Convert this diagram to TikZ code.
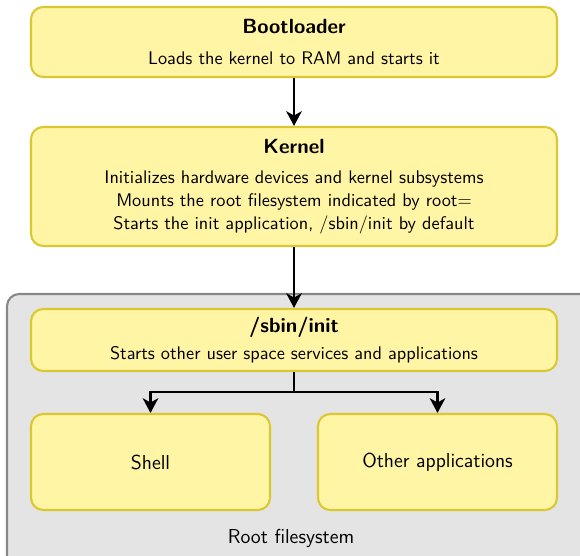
\documentclass[tikz,border=0pt]{standalone}
\usetikzlibrary{arrows.meta}
\definecolor{boxfill}{RGB}{255,245,165}
\definecolor{boxline}{RGB}{218,200,50}
\definecolor{fsfill}{RGB}{228,228,228}
\definecolor{fsline}{RGB}{135,135,135}
\newcommand{\pxsz}{0.575pt}
\newcommand{\stagetitle}[1]{{\fontsize{11.8}{14}\selectfont\bfseries #1}}
\tikzset{
  stage/.style={draw=boxline, fill=boxfill, line width=1.2pt, rounded corners=7pt,
    align=center, font=\sffamily\fontsize{10.5}{13}\selectfont, inner sep=0pt},
  bigtext/.style={font=\sffamily\fontsize{11.6}{14}\selectfont},
  flow/.style={line width=1.2pt, -{Stealth[length=8.5pt,width=9pt,inset=2.5pt]}}
}
\begin{document}
\begin{tikzpicture}[x=\pxsz, y=-\pxsz]
  \useasboundingbox (0,0) rectangle (580,556);
  % root filesystem
  \draw[fsline, fill=fsfill, line width=1.2pt, rounded corners=7pt] (7,294) rectangle (600,576);
  \node[bigtext] (rootfs) at (291,538) {Root filesystem};
  \node[stage, minimum width=526*\pxsz, minimum height=70*\pxsz] (boot) at (294,42)
    {\stagetitle{Bootloader}\\[4.5pt] Loads the kernel to RAM and starts it};
  \node[stage, minimum width=526*\pxsz, minimum height=119*\pxsz] (kernel) at (294,186.5)
    {\stagetitle{Kernel}\\[4.5pt] Initializes hardware devices and kernel subsystems\\
     Mounts the root filesystem indicated by root=\\
     Starts the init application, /sbin/init by default};
  \node[stage, minimum width=526*\pxsz, minimum height=62*\pxsz] (init) at (294,340)
    {\stagetitle{/sbin/init}\\[3pt] Starts other user space services and applications};
  \node[stage, bigtext, minimum width=239*\pxsz, minimum height=96*\pxsz] (shell) at (150.5,462) {Shell};
  \node[stage, bigtext, minimum width=239*\pxsz, minimum height=96*\pxsz] (other) at (437.5,462) {Other applications};
  \coordinate (split) at (294,392);
  \draw[flow] (boot) -- (kernel);
  \draw[flow] (kernel) -- (init);
  \draw[flow] (init.south) -- (split) -| (shell.north);
  \draw[flow] (split) -| (other.north);
\end{tikzpicture}
\end{document}
